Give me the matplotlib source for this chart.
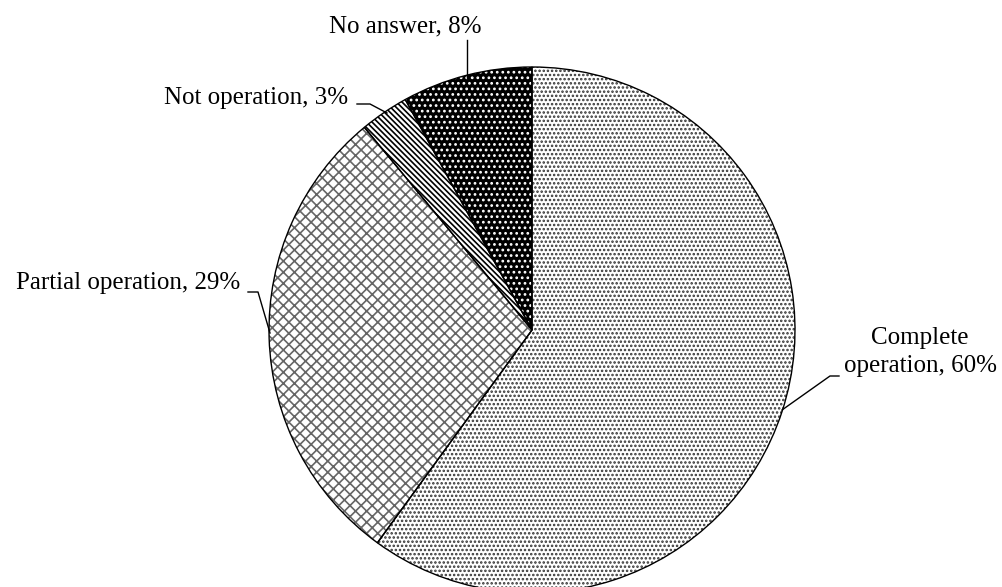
import matplotlib.pyplot as plt

plt.rcParams['font.family'] = ['Liberation Serif', 'DejaVu Serif']
plt.rcParams['hatch.linewidth'] = 1.2

labels = ['Complete operation', 'Partial operation', 'Not operation', 'No answer']
shares = [60, 29, 3, 8]

faces = ['white', 'white', 'white', 'black']
hatch_colors = ['#333333', '#666666', 'black', 'white']
hatches = ['....', 'xxx', '\\\\\\\\\\\\', '...']

# pie placement in pixels (center and radius)
W, H = 1002, 587
cx, cy, R = 532, 330, 263


def px(x, y):
    return (x - cx) / R, (cy - y) / R


fig = plt.figure(figsize=(W / 100, H / 100), dpi=100)
ax = fig.add_axes([0, 0, 1, 1])

wedges, _ = ax.pie(shares, startangle=90, counterclock=False,
                   wedgeprops=dict(linewidth=0))
for w, fc, hc, h in zip(wedges, faces, hatch_colors, hatches):
    w.set_facecolor(fc)
    w.set_edgecolor(hc)
    w.set_hatch(h)

ax.pie(shares, startangle=90, counterclock=False,
       wedgeprops=dict(fill=False, edgecolor='black', linewidth=1.0))

ax.set_aspect('auto')
ax.set_xlim(-cx / R, (W - cx) / R)
ax.set_ylim(-(H - cy) / R, cy / R)
ax.axis('off')

fs = 18
# label texts and leader lines
label_specs = [
    ('Complete\noperation, %d%%' % shares[0], (920, 352),
     [(839, 376), (830, 376), (782, 410)]),
    ('%s, %d%%' % (labels[1], shares[1]), (128, 283),
     [(248, 292), (258, 292), (270, 333)]),
    ('%s, %d%%' % (labels[2], shares[2]), (256, 98),
     [(357, 104), (370, 104), (387, 113)]),
    ('%s, %d%%' % (labels[3], shares[3]), (405, 26),
     [(467, 40), (467, 78)]),
]

for text, (tx, ty), pts in label_specs:
    x, y = px(tx, ty)
    ax.text(x, y, text, ha='center', va='center', fontsize=fs, linespacing=1.35)
    xs, ys = zip(*[px(a, b) for a, b in pts])
    ax.plot(xs, ys, color='black', linewidth=1.0)

fig.savefig('out.png', dpi=100)
